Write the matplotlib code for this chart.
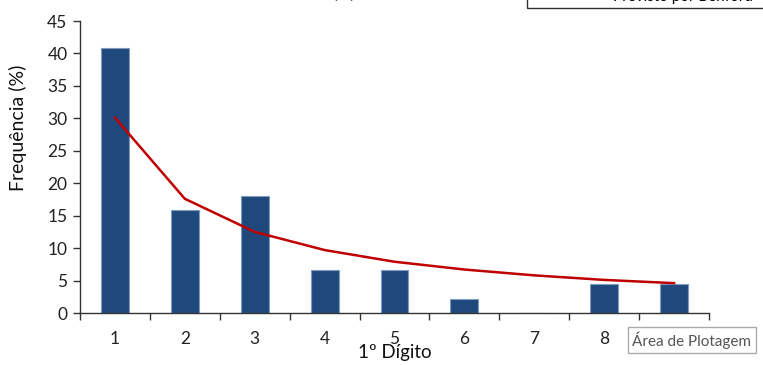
import matplotlib
matplotlib.use('Agg')
import matplotlib.pyplot as plt
from matplotlib.patches import Rectangle

# first digit categories and frequencies (%)
digits = [1, 2, 3, 4, 5, 6, 7, 8, 9]
observed = [40.8, 15.9, 18.1, 6.7, 6.7, 2.2, 0.0, 4.5, 4.5]
benford = [30.1, 17.6, 12.5, 9.7, 7.9, 6.7, 5.8, 5.1, 4.6]
tick_labels = ['1', '2', '3', '4', '5', '6', '7', '8', '']

plt.rcParams['font.family'] = ['Lato', 'DejaVu Sans']

fig = plt.figure(figsize=(7.63, 3.65), dpi=100)
ax = fig.add_axes([80 / 763, 1 - 313 / 365, 629 / 763, 292 / 365])

ax.bar(digits, observed, width=0.4, color='#1F497D', edgecolor='#7F9CC0', linewidth=0.8)
ax.plot(digits, benford, color='#C00000', linewidth=1.8)

ax.set_xlim(0.5, 9.5)
ax.set_ylim(0, 45)
ax.set_yticks(range(0, 50, 5))
ax.set_xticks(digits)
ax.set_xticklabels(tick_labels)
ax.set_xticks([d + 0.5 for d in range(0, 10)], minor=True)
ax.tick_params(axis='x', which='major', length=0, pad=13, labelsize=12.5, colors='#222222')
ax.tick_params(axis='x', which='minor', length=5, width=1, direction='out')
ax.tick_params(axis='y', length=5, width=1, direction='out', labelsize=12.5, colors='#222222', pad=4)
ax.tick_params(axis='both', which='both', color='#333333')

for s in ['top', 'right']:
    ax.spines[s].set_visible(False)
for s in ['left', 'bottom']:
    ax.spines[s].set_color('#333333')
    ax.spines[s].set_linewidth(1)

ax.set_xlabel('1º Dígito', fontsize=13.5, color='#111111')
ax.xaxis.set_label_coords(0.5, -0.105)
ax.xaxis.label.set_va('top')

fig.text(18 / 763, 1 - 128 / 365, 'Frequência (%)', rotation=90, fontsize=14,
         ha='center', va='center', color='#111111')

# title cut off at the top
fig.text(344 / 763, 1 + 3 / 365, '(a)', fontsize=17, fontweight='bold',
         ha='center', va='baseline')

# legend box cut off at the top
fig.patches.append(Rectangle((527 / 763, 1 - 8 / 365), 0.4, 0.2, transform=fig.transFigure,
                             facecolor='white', edgecolor='#333333', linewidth=1))
fig.text(683 / 763, 1 - 1 / 365, 'Previsto por Benford', fontsize=11,
         ha='center', va='baseline')

# tooltip
fig.text(692 / 763, 1 - 340 / 365, 'Área de Plotagem', fontsize=11, color='#555555',
         ha='center', va='center',
         bbox=dict(boxstyle='square,pad=0.3', facecolor='white', edgecolor='#AAAAAA', linewidth=1))

fig.savefig('out.png', dpi=100)
